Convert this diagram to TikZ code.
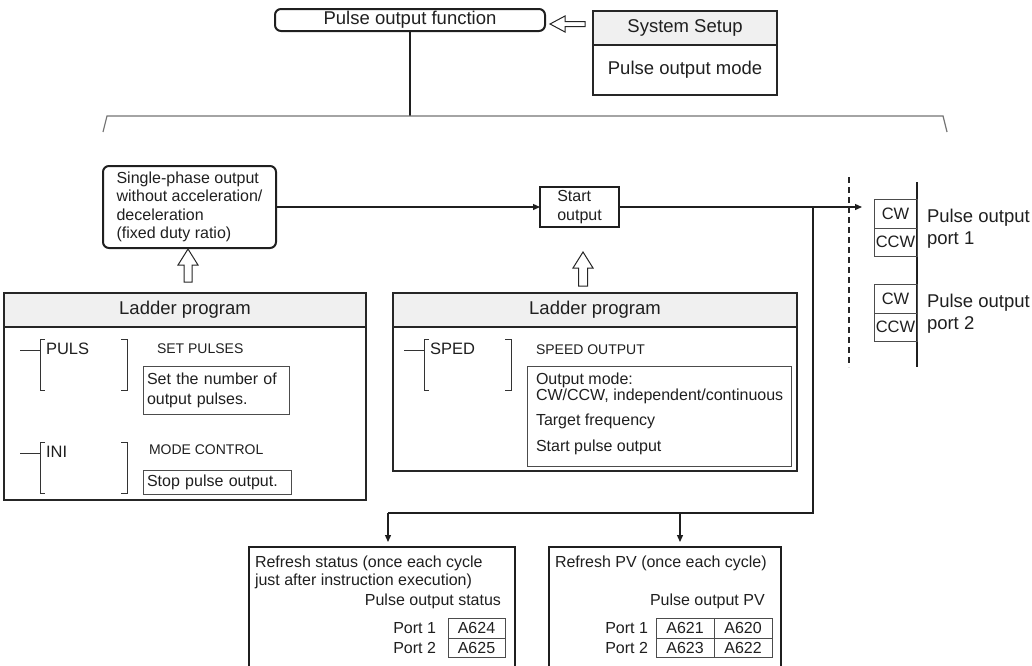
\documentclass[tikz,border=0pt]{standalone}
\usepackage{fontspec}
\setmainfont{Liberation Sans}
\usetikzlibrary{arrows.meta}
\begin{document}
\begin{tikzpicture}[x=1pt,y=-1pt,
  every node/.style={inner sep=0pt, outer sep=0pt, text=black!88},
  big/.style={font=\fontsize{18.5}{22}\selectfont},
  mid/.style={font=\fontsize{16}{18.5}\selectfont},
  lbl/.style={font=\fontsize{16.5}{18}\selectfont},
  small/.style={font=\fontsize{14}{16}\selectfont},
  rbox/.style={draw=black!88, line width=2pt, rounded corners=6pt},
  tbox/.style={draw=black!88, line width=2pt},
  obox/.style={draw=black!85, line width=1.5pt},
  hdr/.style={draw=black!85, line width=1.5pt, fill=black!6},
  ibox/.style={draw=black!70, line width=0.8pt},
  conn/.style={draw=black!88, line width=1.3pt},
  lad/.style={draw=black!80, line width=0.9pt},
  tip/.style={-{Triangle[length=7pt,width=6pt]}},
  hollow/.style={draw=black!85, line width=1pt, fill=white},
]
\useasboundingbox (0,0) rectangle (1032,665);

% ---------- top ----------
\node[rbox, big, minimum width=270pt, minimum height=22pt] (pof) at (410,20) {Pulse output function};
\node[hdr, big, minimum width=184pt, minimum height=34pt, anchor=north west] (ssh) at (593,11) {System Setup};
\node[obox, big, minimum width=184pt, minimum height=50pt, anchor=north west] (ssb) at (ssh.south west) {Pulse output mode};
% hollow arrow left
\draw[hollow] (550,24) -- (565,16) -- (565,21.5) -- (585,21.5) -- (585,26.5) -- (565,26.5) -- (565,32) -- cycle;

% bracket
\coordinate (bl) at (107,116);
\coordinate (br) at (943,116);
\draw[conn] (pof.south) -- (pof.south |- bl);
\draw[draw=black!55, line width=1.2pt] (103,132) -- (bl) -- (br) -- (947,132);

% ---------- middle ----------
\node[rbox, mid, minimum width=173pt, minimum height=82pt, align=left] (sp) at (189.5,207)
  {Single-phase output\\without acceleration/\\deceleration\\(fixed duty ratio)};
\node[tbox, mid, minimum width=79pt, minimum height=40pt, align=left] (so) at (579.5,207) {Start\\output};
\coordinate (j) at (813,207);
\coordinate (out) at (862,207);
\draw[conn, tip] (sp.east) -- (so.west);
\draw[conn, tip] (so.east) -- (out);

% hollow up arrows
\draw[hollow] (188,249) -- (198,265) -- (192,265) -- (192,282) -- (184,282) -- (184,265) -- (178,265) -- cycle;
\draw[hollow] (583,252) -- (593,268) -- (587.5,268) -- (587.5,286) -- (578.5,286) -- (578.5,268) -- (573,268) -- cycle;

% ---------- outputs ----------
\coordinate (dt) at (849,177);
\coordinate (db) at (849,367);
\draw[draw=black!85, line width=1.2pt, dash pattern=on 6pt off 4pt] (dt) -- (db);
\coordinate (st) at (917,182);
\coordinate (sb) at (917,367);
\draw[conn] (st) -- (sb);
\node[ibox, lbl, minimum width=43pt, minimum height=29pt] (cw1) at (895.5,213.5) {CW};
\node[ibox, lbl, minimum width=43pt, minimum height=28pt, anchor=north] (ccw1) at (cw1.south) {CCW};
\node[ibox, lbl, minimum width=43pt, minimum height=29pt] (cw2) at (895.5,298.5) {CW};
\node[ibox, lbl, minimum width=43pt, minimum height=28pt, anchor=north] (ccw2) at (cw2.south) {CCW};
\node[big, align=left, anchor=west, font=\fontsize{18.5}{22}\selectfont] (p1) at (927,229) {Pulse output\\port 1};
\node[big, align=left, anchor=west, font=\fontsize{18.5}{22}\selectfont] (p2) at (927,314) {Pulse output\\port 2};

% ---------- left ladder ----------
\node[hdr, big, minimum width=362pt, minimum height=34pt, anchor=north west] (l1h) at (4,293) {Ladder program};
\node[obox, minimum width=362pt, minimum height=173pt, anchor=north west] (l1b) at (l1h.south west) {};
\draw[lad] (20,350) -- (40,350);
\draw[lad] (45,339) -| (40,390) -- (45,390);
\draw[lad] (121,339) -| (127,390) -- (121,390);
\node[lbl, anchor=west] (puls) at (46,349) {PULS};
\node[small, anchor=west] (setp) at (157,349) {SET PULSES};
\node[ibox, mid, minimum width=146pt, minimum height=48pt, text width=138pt, align=left, font=\fontsize{16}{20}\selectfont] (setb) at (216,390)
  {Set the number of\\output pulses.};
\draw[lad] (20,453) -- (40,453);
\draw[lad] (45,442) -| (40,493) -- (45,493);
\draw[lad] (121,442) -| (127,493) -- (121,493);
\node[lbl, anchor=west] (ini) at (46,452) {INI};
\node[small, anchor=west] (modec) at (149,450) {MODE CONTROL};
\node[ibox, mid, minimum width=148pt, minimum height=24pt, text width=140pt, align=left] (stopb) at (217,482) {Stop pulse output.};

% ---------- right ladder ----------
\node[hdr, big, minimum width=404pt, minimum height=34pt, anchor=north west] (r1h) at (393,293) {Ladder program};
\node[obox, minimum width=404pt, minimum height=144pt, anchor=north west] (r1b) at (r1h.south west) {};
\draw[lad] (404,350) -- (424,350);
\draw[lad] (429,339) -| (424,390) -- (429,390);
\draw[lad] (505,339) -| (511,390) -- (505,390);
\node[lbl, anchor=west] (sped) at (430,349) {SPED};
\node[small, anchor=west] (spo) at (536,350) {SPEED OUTPUT};
\node[ibox, minimum width=264pt, minimum height=100pt] (ob) at (659,416) {};
\node[mid, anchor=west, align=left, font=\fontsize{16}{16}\selectfont] (om) at (536,388) {Output mode:\\CW/CCW, independent/continuous};
\node[mid, anchor=west] (tf) at (536,421) {Target frequency};
\node[mid, anchor=west] (spout) at (536,447) {Start pulse output};

% ---------- refresh ----------
\node[tbox, minimum width=266pt, minimum height=140pt, anchor=north west] (rs) at (249,547) {};
\node[tbox, minimum width=232pt, minimum height=140pt, anchor=north west] (rp) at (549,547) {};
\coordinate (jb) at (813,513);
\coordinate (a1) at (388,513);
\coordinate (a2) at (680,513);
\draw[conn] (j) -- (jb) -- (a1);
\draw[conn, tip, shorten >=5pt] (a1) -- (a1 |- rs.north);
\draw[conn, tip, shorten >=5pt] (a2) -- (a2 |- rp.north);

\node[mid, anchor=west, align=left] (rst) at (255,572.5) {Refresh status (once each cycle\\just after instruction execution)};
\node[mid, anchor=east] (pos) at (501,601) {Pulse output status};
\node[ibox, mid, minimum width=57pt, minimum height=20pt] (c624) at (476.5,628) {A624};
\node[ibox, mid, minimum width=57pt, minimum height=19pt, anchor=north] (c625) at (c624.south) {A625};
\node[mid, anchor=east] (pt1a) at (436,628) {Port 1};
\node[mid, anchor=east] (pt2a) at (436,647.5) {Port 2};

\node[mid, anchor=west] (rpv) at (555,563) {Refresh PV (once each cycle)};
\node[mid, anchor=west] (popv) at (650,601) {Pulse output PV};
\node[ibox, mid, minimum width=58pt, minimum height=20pt] (c621) at (685,628) {A621};
\node[ibox, mid, minimum width=58pt, minimum height=20pt, anchor=west] (c620) at (c621.east) {A620};
\node[ibox, mid, minimum width=58pt, minimum height=19pt, anchor=north] (c623) at (c621.south) {A623};
\node[ibox, mid, minimum width=58pt, minimum height=19pt, anchor=north] (c622) at (c620.south) {A622};
\node[mid, anchor=east] (pt1b) at (648,628) {Port 1};
\node[mid, anchor=east] (pt2b) at (648,647.5) {Port 2};
\end{tikzpicture}
\end{document}
